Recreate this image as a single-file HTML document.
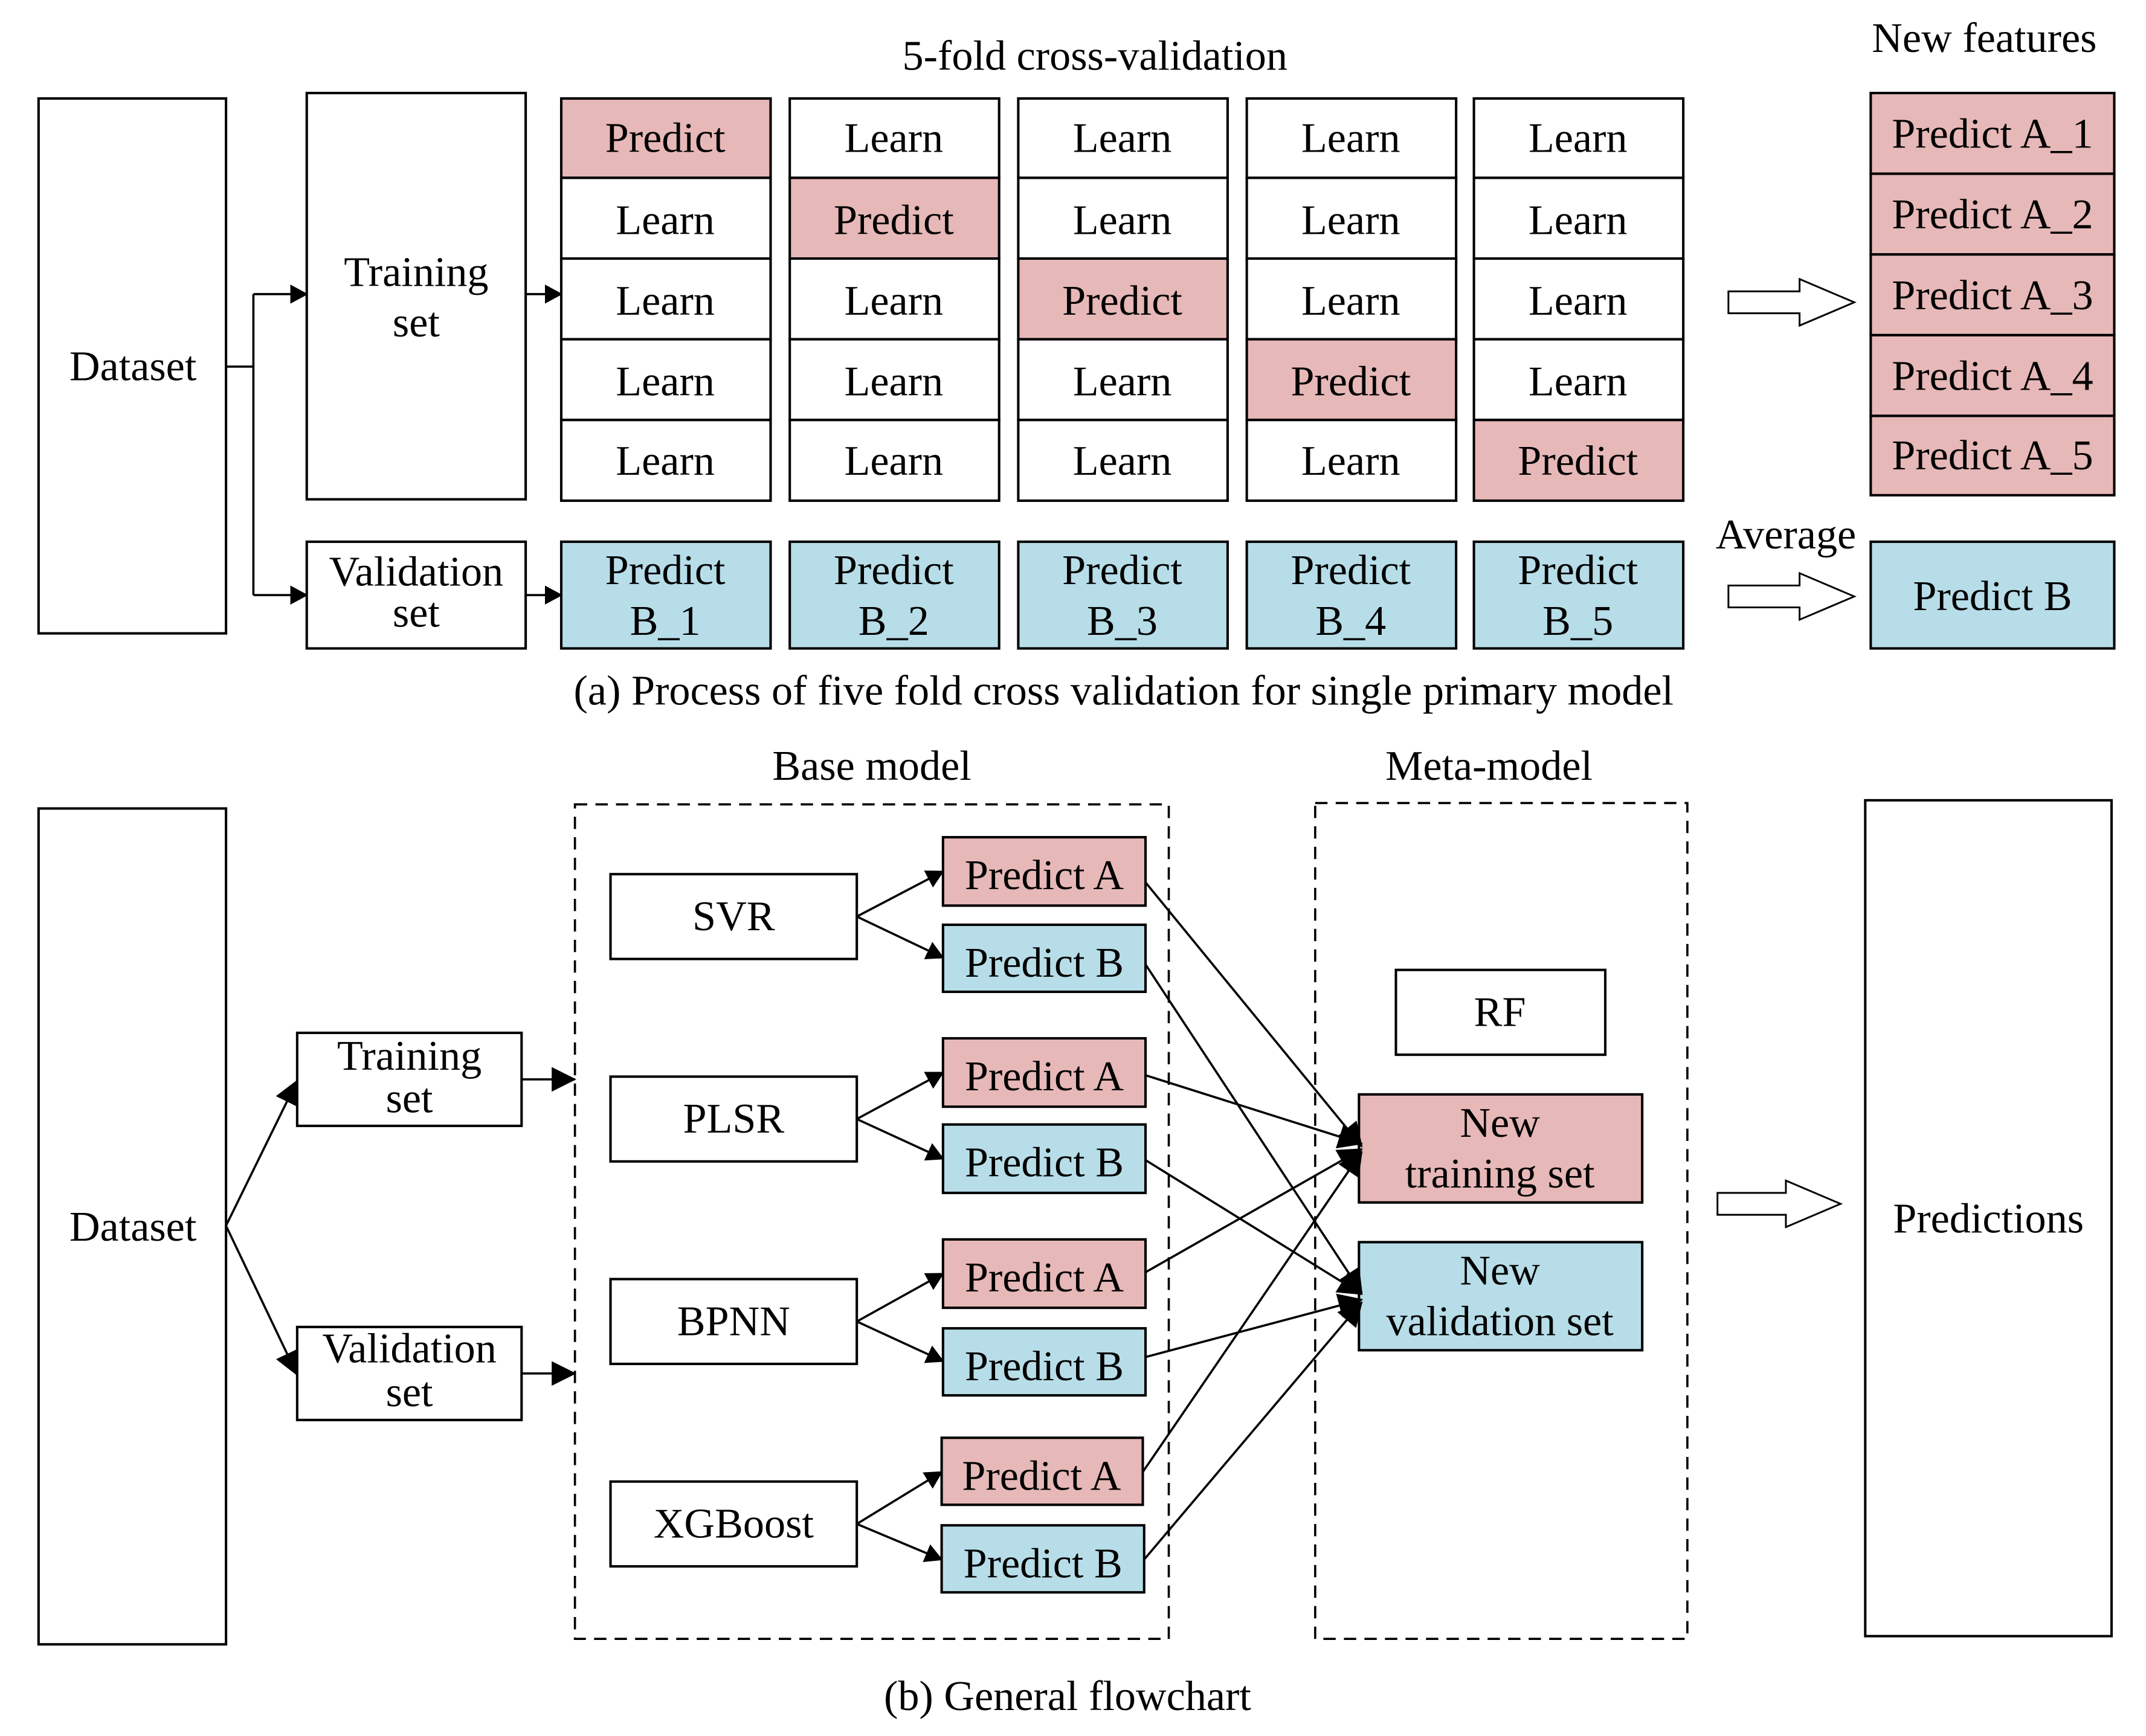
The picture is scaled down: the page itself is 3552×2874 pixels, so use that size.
<!DOCTYPE html>
<html><head><meta charset="utf-8"><style>
html,body{margin:0;padding:0;background:#fff;}
svg{display:block;}
text{font-family:"Liberation Serif",serif;font-size:31px;fill:#000;text-anchor:middle;}
.b{fill:#fff;stroke:#000;stroke-width:1.8;}
.p{fill:#e6b8b7;stroke:#000;stroke-width:1.8;}
.c{fill:#b7dde8;stroke:#000;stroke-width:1.8;}
.l{stroke:#000;stroke-width:1.6;fill:none;}
.d{stroke:#000;stroke-width:1.6;fill:none;stroke-dasharray:9 6;}
.h{fill:#fff;stroke:#000;stroke-width:1.3;}
</style></head><body>
<svg width="3552" height="2874" viewBox="0 0 1568 1269" xmlns="http://www.w3.org/2000/svg">
<defs>
<marker id="a" markerWidth="13" markerHeight="14" refX="12" refY="7" orient="auto" markerUnits="userSpaceOnUse" viewBox="0 0 13 14">
<path d="M0,0 L13,7 L0,14 z" fill="#000"/></marker>
<marker id="A" markerWidth="18" markerHeight="18" refX="17" refY="9" orient="auto" markerUnits="userSpaceOnUse" viewBox="0 0 18 18">
<path d="M0,0 L18,9 L0,18 z" fill="#000"/></marker>
</defs>

<!-- (a) -->
<text x="800" y="51">5-fold cross-validation</text>
<rect class="b" x="28" y="72" width="137" height="391"/>
<text x="97" y="278">Dataset</text>
<path class="l" d="M165,268 H185 M185,215 V435"/>
<path class="l" d="M185,215 H224" marker-end="url(#a)"/>
<path class="l" d="M185,435 H224" marker-end="url(#a)"/>
<rect class="b" x="224" y="68" width="160" height="297"/>
<text x="304" y="209">Training</text><text x="304" y="246">set</text>
<path class="l" d="M384,215 H410" marker-end="url(#a)"/>
<rect class="b" x="224" y="396" width="160" height="78"/>
<text x="304" y="428">Validation</text><text x="304" y="458">set</text>
<path class="l" d="M384,435 H410" marker-end="url(#a)"/>

<rect class="p" x="410" y="72" width="153" height="58"/><text x="486" y="111">Predict</text>
<rect class="b" x="410" y="130" width="153" height="59"/><text x="486" y="171">Learn</text>
<rect class="b" x="410" y="189" width="153" height="59"/><text x="486" y="230">Learn</text>
<rect class="b" x="410" y="248" width="153" height="59"/><text x="486" y="289">Learn</text>
<rect class="b" x="410" y="307" width="153" height="59"/><text x="486" y="347">Learn</text>
<rect class="b" x="577" y="72" width="153" height="58"/><text x="653" y="111">Learn</text>
<rect class="p" x="577" y="130" width="153" height="59"/><text x="653" y="171">Predict</text>
<rect class="b" x="577" y="189" width="153" height="59"/><text x="653" y="230">Learn</text>
<rect class="b" x="577" y="248" width="153" height="59"/><text x="653" y="289">Learn</text>
<rect class="b" x="577" y="307" width="153" height="59"/><text x="653" y="347">Learn</text>
<rect class="b" x="744" y="72" width="153" height="58"/><text x="820" y="111">Learn</text>
<rect class="b" x="744" y="130" width="153" height="59"/><text x="820" y="171">Learn</text>
<rect class="p" x="744" y="189" width="153" height="59"/><text x="820" y="230">Predict</text>
<rect class="b" x="744" y="248" width="153" height="59"/><text x="820" y="289">Learn</text>
<rect class="b" x="744" y="307" width="153" height="59"/><text x="820" y="347">Learn</text>
<rect class="b" x="911" y="72" width="153" height="58"/><text x="987" y="111">Learn</text>
<rect class="b" x="911" y="130" width="153" height="59"/><text x="987" y="171">Learn</text>
<rect class="b" x="911" y="189" width="153" height="59"/><text x="987" y="230">Learn</text>
<rect class="p" x="911" y="248" width="153" height="59"/><text x="987" y="289">Predict</text>
<rect class="b" x="911" y="307" width="153" height="59"/><text x="987" y="347">Learn</text>
<rect class="b" x="1077" y="72" width="153" height="58"/><text x="1153" y="111">Learn</text>
<rect class="b" x="1077" y="130" width="153" height="59"/><text x="1153" y="171">Learn</text>
<rect class="b" x="1077" y="189" width="153" height="59"/><text x="1153" y="230">Learn</text>
<rect class="b" x="1077" y="248" width="153" height="59"/><text x="1153" y="289">Learn</text>
<rect class="p" x="1077" y="307" width="153" height="59"/><text x="1153" y="347">Predict</text>

<rect class="c" x="410" y="396" width="153" height="78"/><text x="486" y="427">Predict</text><text x="486" y="464">B_1</text>
<rect class="c" x="577" y="396" width="153" height="78"/><text x="653" y="427">Predict</text><text x="653" y="464">B_2</text>
<rect class="c" x="744" y="396" width="153" height="78"/><text x="820" y="427">Predict</text><text x="820" y="464">B_3</text>
<rect class="c" x="911" y="396" width="153" height="78"/><text x="987" y="427">Predict</text><text x="987" y="464">B_4</text>
<rect class="c" x="1077" y="396" width="153" height="78"/><text x="1153" y="427">Predict</text><text x="1153" y="464">B_5</text>

<polygon class="h" points="1263,213 1315,213 1315,204 1355,221 1315,238 1315,229 1263,229"/>
<polygon class="h" points="1263,428 1315,428 1315,419 1355,436 1315,453 1315,444 1263,444"/>
<text x="1450" y="38">New features</text>
<rect class="p" x="1367" y="68" width="178" height="59"/><text x="1456" y="108">Predict A_1</text>
<rect class="p" x="1367" y="127" width="178" height="59"/><text x="1456" y="167">Predict A_2</text>
<rect class="p" x="1367" y="186" width="178" height="59"/><text x="1456" y="226">Predict A_3</text>
<rect class="p" x="1367" y="245" width="178" height="59"/><text x="1456" y="285">Predict A_4</text>
<rect class="p" x="1367" y="304" width="178" height="58"/><text x="1456" y="343">Predict A_5</text>
<text x="1305" y="401">Average</text>
<rect class="c" x="1367" y="396" width="178" height="78"/><text x="1456" y="446">Predict B</text>
<text x="821" y="515">(a) Process of five fold cross validation for single primary model</text>

<!-- (b) -->
<text x="637" y="570">Base model</text>
<text x="1088" y="570">Meta-model</text>
<rect class="b" x="28" y="591" width="137" height="611"/>
<text x="97" y="907">Dataset</text>
<path class="l" d="M165,896 L217,790" marker-end="url(#A)"/>
<path class="l" d="M165,896 L217,1005" marker-end="url(#A)"/>
<rect class="b" x="217" y="755" width="164" height="68"/><text x="299" y="782">Training</text><text x="299" y="813">set</text>
<rect class="b" x="217" y="970" width="164" height="68"/><text x="299" y="996">Validation</text><text x="299" y="1028">set</text>
<path class="l" d="M381,789 H420" marker-end="url(#A)"/>
<path class="l" d="M381,1004 H420" marker-end="url(#A)"/>
<rect class="d" x="420" y="588" width="434" height="610"/>
<rect class="d" x="961" y="587" width="272" height="611"/>

<rect class="b" x="446" y="639" width="180" height="62"/><text x="536" y="680">SVR</text>
<rect class="b" x="446" y="787" width="180" height="62"/><text x="536" y="828">PLSR</text>
<rect class="b" x="446" y="935" width="180" height="62"/><text x="536" y="976">BPNN</text>
<rect class="b" x="446" y="1083" width="180" height="62"/><text x="536" y="1124">XGBoost</text>

<rect class="p" x="689" y="612" width="148" height="50"/><text x="763" y="650">Predict A</text>
<rect class="c" x="689" y="676" width="148" height="49"/><text x="763" y="714">Predict B</text>
<rect class="p" x="689" y="759" width="148" height="50"/><text x="763" y="797">Predict A</text>
<rect class="c" x="689" y="822" width="148" height="50"/><text x="763" y="860">Predict B</text>
<rect class="p" x="689" y="906" width="148" height="50"/><text x="763" y="944">Predict A</text>
<rect class="c" x="689" y="971" width="148" height="49"/><text x="763" y="1009">Predict B</text>
<rect class="p" x="688" y="1051" width="147" height="49"/><text x="761" y="1089">Predict A</text>
<rect class="c" x="688" y="1115" width="148" height="49"/><text x="762" y="1153">Predict B</text>

<path class="l" d="M626,670 L689,637" marker-end="url(#a)"/>
<path class="l" d="M626,670 L689,700" marker-end="url(#a)"/>
<path class="l" d="M626,818 L689,784" marker-end="url(#a)"/>
<path class="l" d="M626,818 L689,847" marker-end="url(#a)"/>
<path class="l" d="M626,966 L689,931" marker-end="url(#a)"/>
<path class="l" d="M626,966 L689,995" marker-end="url(#a)"/>
<path class="l" d="M626,1114 L688,1076" marker-end="url(#a)"/>
<path class="l" d="M626,1114 L688,1140" marker-end="url(#a)"/>

<rect class="b" x="1020" y="709" width="153" height="62"/><text x="1096" y="750">RF</text>
<rect class="p" x="993" y="800" width="207" height="79"/><text x="1096" y="831">New</text><text x="1096" y="868">training set</text>
<rect class="c" x="993" y="908" width="207" height="79"/><text x="1096" y="939">New</text><text x="1096" y="976">validation set</text>

<path class="l" d="M837,645 L995,838" marker-end="url(#A)"/>
<path class="l" d="M837,786 L995,836" marker-end="url(#A)"/>
<path class="l" d="M837,930 L995,840" marker-end="url(#A)"/>
<path class="l" d="M835,1076 L995,842" marker-end="url(#A)"/>
<path class="l" d="M837,705 L995,945" marker-end="url(#A)"/>
<path class="l" d="M837,848 L995,946" marker-end="url(#A)"/>
<path class="l" d="M837,992 L995,950" marker-end="url(#A)"/>
<path class="l" d="M836,1140 L995,952" marker-end="url(#A)"/>

<polygon class="h" points="1255,872 1305,872 1305,863 1345,880 1305,897 1305,888 1255,888"/>
<rect class="b" x="1363" y="585" width="180" height="611"/>
<text x="1453" y="901">Predictions</text>
<text x="780" y="1250">(b) General flowchart</text>
</svg>
</body></html>
